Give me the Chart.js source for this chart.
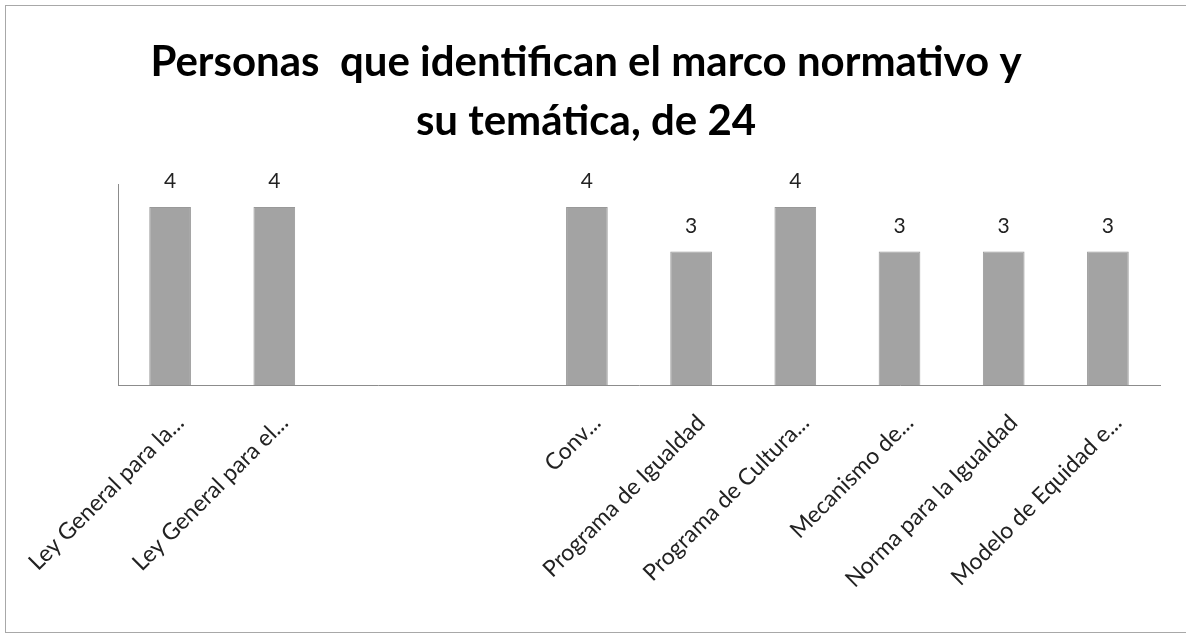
<!DOCTYPE html>
<html>
<head>
<meta charset="utf-8">
<title>Personas que identifican el marco normativo</title>
<script src="https://cdn.jsdelivr.net/npm/chart.js@4/dist/chart.umd.min.js"></script>
<style>
  html, body { margin: 0; padding: 0; background: #fff; overflow: hidden; }
  #frame {
    position: absolute; left: 5px; top: 5px; width: 1200px; height: 626px;
    border: 1px solid #a8a8a8;
  }
  #wrap { position: absolute; left: 0; top: 0; width: 1186px; height: 643px; }
</style>
</head>
<body>
<div id="frame"></div>
<div id="wrap"><canvas id="chart"></canvas></div>
<script>
// chart data
var categories = [
  "Ley General para la...",
  "Ley General para el...",
  "",
  "",
  "Conv...",
  "Programa de Igualdad",
  "Programa de Cultura...",
  "Mecanismo de...",
  "Norma para la Igualdad",
  "Modelo de Equidad e..."
];
var personas = [4, 4, null, null, 4, 3, 4, 3, 3, 3];
var titleLines = ["Personas  que identifican el marco normativo y", "su temática, de 24"];

// draws the value above each bar
var valueLabels = {
  id: "valueLabels",
  afterDatasetsDraw: function(chart) {
    var ctx = chart.ctx;
    var meta = chart.getDatasetMeta(0);
    ctx.save();
    ctx.font = "21px Lato";
    ctx.fillStyle = "#222";
    ctx.textAlign = "center";
    ctx.textBaseline = "bottom";
    meta.data.forEach(function(bar, i) {
      var v = personas[i];
      if (v === null) return;
      ctx.fillText(v, bar.x, bar.y - 15);
    });
    ctx.restore();
  }
};

var ctx = document.getElementById("chart");

new Chart(ctx, {
  type: "bar",
  data: {
    labels: categories,
    datasets: [{
      label: "Personas",
      data: personas,
      backgroundColor: "#a3a3a3",
      borderColor: "#999",
      borderWidth: 1,
      categoryPercentage: 0.8,
      barPercentage: 0.5
    }]
  },
  options: {
    responsive: true,
    maintainAspectRatio: false,
    animation: false,
    layout: { padding: { left: 12, right: 26, top: 0, bottom: 34 } },
    plugins: {
      legend: { display: false },
      tooltip: { enabled: false },
      title: {
        display: true,
        text: titleLines,
        color: "#000",
        font: { family: "Lato", size: 42, weight: "bold", lineHeight: 1.4 },
        padding: { top: 33, bottom: 34 }
      }
    },
    scales: {
      x: {
        grid: { display: false },
        border: { color: "#8c8c8c", width: 1 },
        ticks: {
          color: "#222",
          font: { family: "Lato", size: 23 },
          minRotation: 45,
          maxRotation: 45,
          autoSkip: false,
          padding: 16,
          labelOffset: 10
        }
      },
      y: {
        min: 0,
        max: 4.5,
        grid: { display: false },
        border: { color: "#8c8c8c", width: 1 },
        ticks: { display: false },
        afterFit: function(scale) { scale.width = 106; }
      }
    }
  },
  plugins: [valueLabels]
});
</script>
</body>
</html>
